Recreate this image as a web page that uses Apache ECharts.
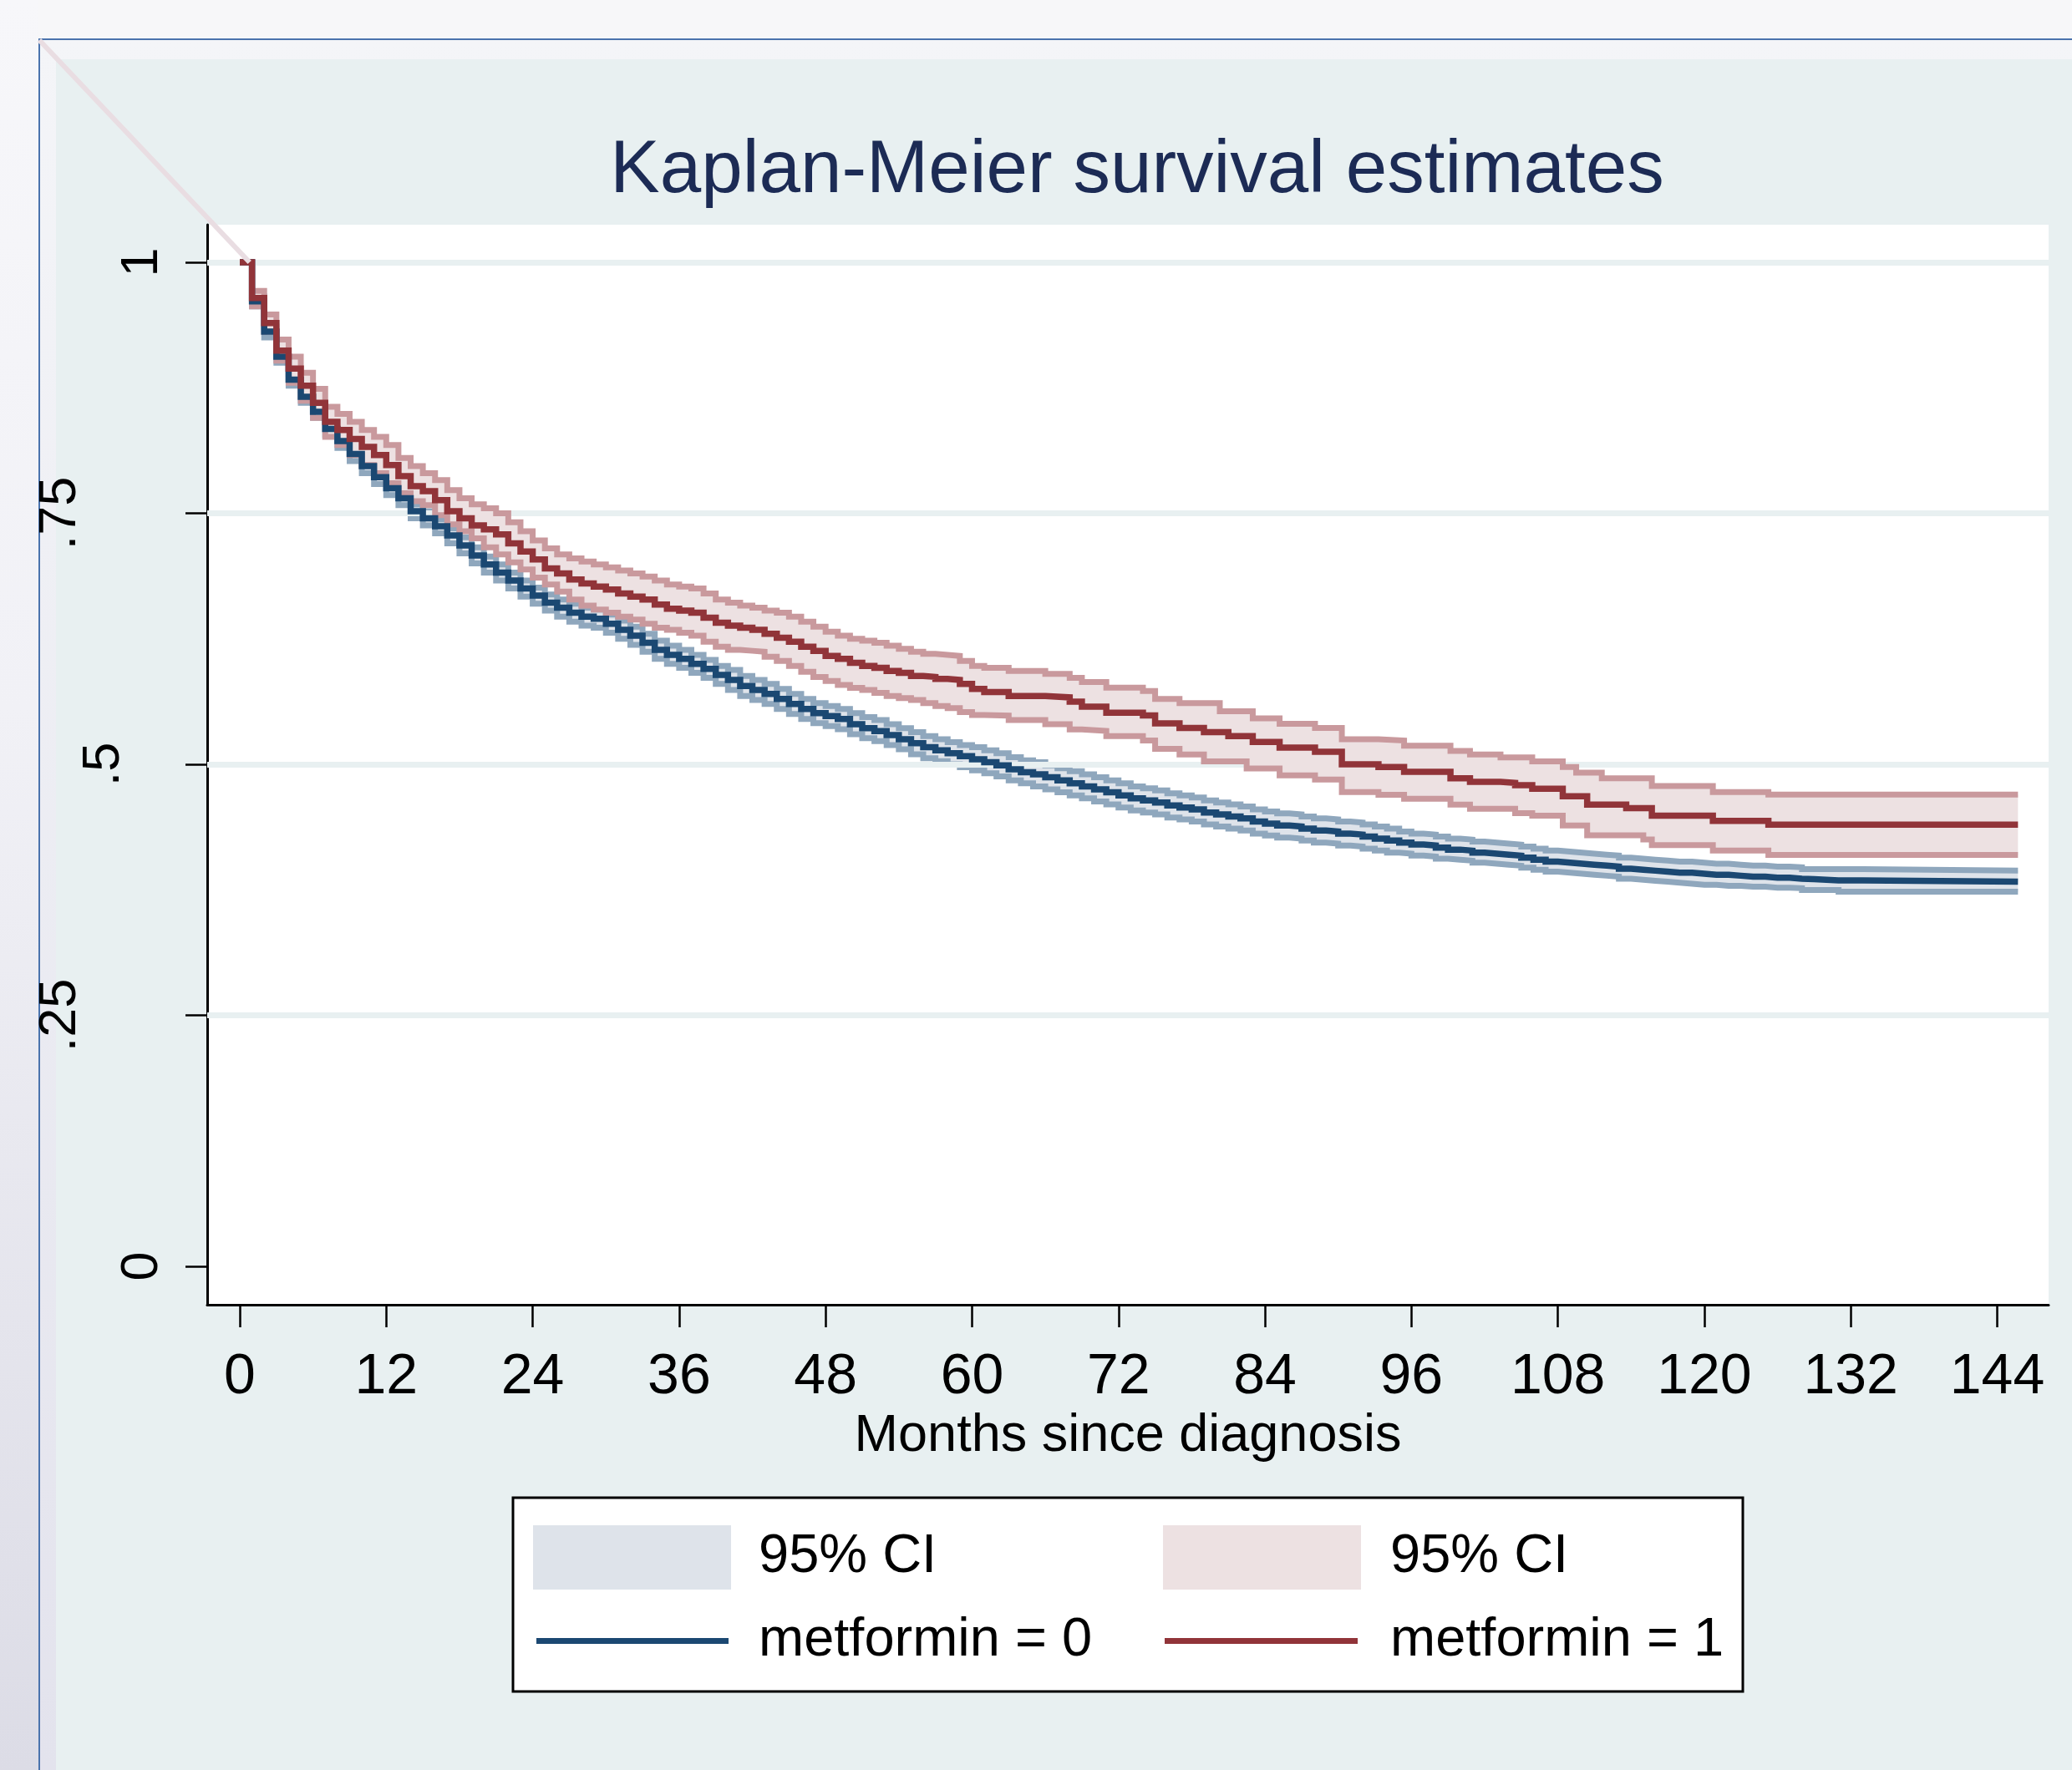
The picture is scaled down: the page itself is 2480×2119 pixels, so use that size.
<!DOCTYPE html>
<html>
<head>
<meta charset="utf-8">
<title>Kaplan-Meier survival estimates</title>
<script src="https://cdn.jsdelivr.net/npm/echarts@6.0.0/dist/echarts.min.js"></script>
<style>
html, body { margin: 0; padding: 0; }
body { width: 2480px; height: 2119px; position: relative; overflow: hidden; background: #f7f7f9; }
#side { position: absolute; left: 0; top: 0; width: 46px; height: 2119px; background: linear-gradient(#f7f7fa, #f1f1f6 40%, #dcdce6); }
#frame { position: absolute; left: 46px; top: 46px; right: 0; bottom: 0; border-left: 2px solid #4a73ad; border-top: 2px solid #4a73ad; background: linear-gradient(#f4f5f8, #e3e3ed); }
#region { position: absolute; left: 67px; top: 71px; right: 0; bottom: 0; background: #e8f0f1; }
#chart { position: absolute; left: 0; top: 0; width: 2480px; height: 2119px; }
</style>
</head>
<body>
<div id="side"></div>
<div id="frame"></div>
<div id="region"></div>
<div id="chart"></div>
<script>
// tick marks
var xTicks = [0, 12, 24, 36, 48, 60, 72, 84, 96, 108, 120, 132, 144];
var yTicks = [0, 0.25, 0.5, 0.75, 1];
var yTickLabels = ['0', '.25', '.5', '.75', '1'];
var gridValues = [0.25, 0.5, 0.75, 1];

// metformin = 0 (months, survival, 95% CI)
var blueTime = [0, 1, 2, 3, 4, 5, 6, 7, 8, 9, 10, 11, 12, 13, 14, 15, 16, 17, 18, 19,
    20, 21, 22, 23, 24, 25, 26, 27, 28, 29, 30, 31, 32, 33, 34, 35, 36, 37, 38, 39,
    40, 41, 42, 43, 44, 45, 46, 47, 48, 49, 50, 51, 52, 53, 54, 55, 56, 57, 58, 59,
    60, 61, 62, 63, 64, 65, 66, 67, 68, 69, 70, 71, 72, 73, 74, 75, 76, 77, 78, 79,
    80, 81, 82, 83, 84, 85, 86, 87, 88, 89, 90, 91, 92, 93, 94, 95, 96, 97, 98, 99,
    100, 101, 102, 103, 104, 105, 106, 107, 108, 109, 110, 111, 112, 113, 114, 115, 116, 117, 118, 119,
    120, 121, 122, 123, 124, 125, 126, 127, 128, 129, 131, 133, 145.7];
var blueSurv = [1, .961, .931, .906, .883, .866, .851, .834, .822, .809,
    .797, .786, .775, .765, .752, .745, .737, .728, .718, .708,
    .699, .691, .683, .675, .668, .661, .656, .651, .647, .645,
    .640, .634, .628, .621, .614, .609, .605, .600, .595, .589,
    .584, .578, .574, .570, .565, .560, .555, .551, .548, .545,
    .540, .536, .533, .529, .525, .521, .517, .514, .511, .508,
    .505, .502, .499, .495, .492, .490, .487, .484, .481, .478,
    .475, .472, .469, .466, .464, .462, .459, .457, .455, .452,
    .450, .448, .446, .443, .441, .439, .438, .436, .434, .433,
    .431, .430, .428, .426, .424, .422, .420, .419, .417, .415,
    .414, .412, .411, .410, .409, .407, .405, .403, .402, .401,
    .400, .399, .398, .396, .395, .394, .393, .392, .392, .391,
    .390, .390, .389, .388, .388, .387, .387, .386, .3855, .3844,
    .3844, .383, .383];
var blueUpper = [1, .966, .936, .912, .889, .872, .857, .840, .828, .815,
    .804, .793, .782, .772, .759, .752, .744, .735, .726, .716,
    .707, .699, .691, .683, .676, .669, .664, .660, .656, .654,
    .649, .643, .637, .630, .623, .618, .614, .609, .604, .598,
    .594, .588, .584, .580, .575, .570, .565, .561, .558, .555,
    .551, .547, .544, .540, .536, .532, .528, .525, .522, .519,
    .517, .514, .511, .507, .504, .502, .499, .496, .493, .490,
    .487, .484, .481, .478, .476, .474, .471, .469, .467, .464,
    .462, .460, .458, .455, .453, .451, .450, .448, .446, .445,
    .443, .442, .440, .438, .436, .433, .431, .430, .428, .426,
    .425, .423, .422, .421, .420, .418, .416, .414, .413, .412,
    .411, .410, .409, .407, .406, .405, .404, .403, .403, .402,
    .401, .401, .400, .399, .399, .398, .398, .3974, .3955, .3955,
    .3955, .3941, .3941];
var blueLower = [1, .956, .925, .900, .877, .860, .845, .828, .815, .802,
    .790, .779, .768, .758, .745, .738, .730, .720, .710, .700,
    .691, .683, .675, .667, .660, .653, .647, .642, .638, .636,
    .631, .625, .619, .612, .605, .600, .596, .591, .586, .580,
    .574, .568, .564, .560, .555, .550, .545, .541, .538, .535,
    .530, .526, .523, .519, .515, .510, .506, .503, .500, .497,
    .494, .491, .488, .484, .481, .478, .475, .472, .469, .466,
    .463, .460, .457, .454, .452, .450, .447, .445, .443, .440,
    .438, .436, .434, .431, .429, .427, .426, .424, .422, .421,
    .419, .418, .416, .414, .412, .411, .409, .408, .406, .405,
    .404, .402, .401, .400, .399, .397, .395, .393, .392, .391,
    .390, .389, .388, .386, .385, .384, .383, .382, .381, .380,
    .380, .379, .379, .378, .378, .377, .377, .3766, .3747, .3747,
    .373, .373, .373];

// metformin = 1
var redTime = [0, 1, 2, 3, 4, 5, 6, 7, 8, 9, 10, 11, 12, 13, 14, 15, 16, 17, 18, 19,
    20, 21, 22, 23, 24, 25, 26, 27, 28, 29, 30, 31, 32, 33, 34, 35, 36, 37, 38, 39,
    40, 41, 42, 43, 44, 45, 46, 47, 48, 49, 50, 51, 52, 53, 54, 55, 56, 57, 58, 59, 60,
    61, 63, 66, 68, 69, 71, 74, 75, 77, 79, 80.3, 81, 82.5, 83, 85.2, 88.1, 90.3, 93.3, 95.4, 99.2,
    100.8, 103.3, 104.5, 105.9, 108.4, 109.5, 110.4, 111.6, 113.6, 115, 115.7, 120.7, 125.25, 145.7];
var redSurv = [1, .9645, .9395, .912, .894, .877, .860, .841, .833, .824,
    .816, .808, .798, .787, .777, .772, .763, .752, .745, .738,
    .734, .729, .720, .712, .704, .695, .690, .684, .680, .677,
    .674, .670, .667, .664, .659, .655, .653, .651, .646, .641,
    .638, .636, .634, .630, .626, .622, .617, .613, .608, .605,
    .601, .598, .596, .593, .591, .588, .587, .585, .584, .580, .575,
    .572, .568, .5666, .5624, .5574, .5513, .5486, .5408, .5361, .532, .532, .528, .528, .5222, .5167, .5125, .500, .4972, .4925, .4861,
    .4825, .4814, .4792, .4756, .4681, .4681, .4598, .4598, .4562, .4562, .4487, .4437, .4398, .4398];
var redUpper = [1, .9714, .948, .923, .906, .890, .874, .856, .849, .841,
    .833, .826, .818, .805, .797, .790, .783, .773, .765, .759,
    .755, .750, .741, .732, .723, .715, .709, .705, .702, .699,
    .696, .693, .690, .687, .683, .679, .677, .675, .670, .664,
    .661, .658, .656, .653, .651, .647, .642, .637, .632, .628,
    .625, .623, .621, .618, .615, .612, .610, .609, .608, .603, .598,
    .596, .593, .590, .586, .582, .5763, .573, .5651, .561, .561, .5527, .5527, .5527, .5458, .5403, .5361, .525, .5236, .5185, .5133,
    .5097, .5069, .5069, .5028, .4972, .4917, .4917, .4861, .4861, .4861, .4784, .4723, .4698, .4698];
var redLower = [1, .956, .931, .902, .880, .862, .845, .826, .818, .808,
    .798, .790, .780, .770, .762, .758, .748, .739, .732, .725,
    .716, .709, .701, .694, .686, .679, .672, .664, .658, .654,
    .651, .647, .644, .640, .636, .634, .631, .628, .622, .617,
    .614, .613, .612, .607, .603, .598, .592, .587, .583, .579,
    .576, .574, .571, .568, .566, .564, .561, .558, .556, .552, .549,
    .5485, .544, .540, .5347, .5333, .528, .5236, .5153, .5097, .5028, .5028, .5028, .4958, .4958, .4889, .4847, .4722, .4695, .4656, .4598,
    .4556, .4556, .4514, .4487, .439, .439, .4292, .4292, .4292, .4251, .4195, .414, .4098, .4098];

var font = "'Liberation Sans', Arial, Helvetica, sans-serif";

function pairs(t, v) {
    return t.map(function (x, i) { return [x, v[i]]; });
}
function stepLine(name, data, color, width, z) {
    return {
        name: name,
        type: 'line',
        step: 'end',
        data: data,
        symbol: 'none',
        showSymbol: false,
        silent: true,
        z: z,
        lineStyle: { color: color, width: width, cap: 'butt', join: 'miter' },
        itemStyle: { color: color }
    };
}
// filled step band between the lower and upper confidence limits
function band(name, time, lo, hi, fill, z) {
    return {
        name: name,
        type: 'custom',
        coordinateSystem: 'cartesian2d',
        silent: true,
        z: z,
        itemStyle: { color: fill },
        data: [[time[0], hi[0]]],
        renderItem: function (params, api) {
            var top = [], bottom = [];
            for (var i = 0; i < time.length; i++) {
                var x2 = i + 1 < time.length ? time[i + 1] : time[i];
                top.push(api.coord([time[i], hi[i]]), api.coord([x2, hi[i]]));
                bottom.push(api.coord([time[i], lo[i]]), api.coord([x2, lo[i]]));
            }
            return {
                type: 'polygon',
                shape: { points: top.concat(bottom.reverse()) },
                style: { fill: fill }
            };
        }
    };
}
function legendItem(left, top, name, w, h, color, padLeft) {
    return {
        left: left,
        top: top,
        padding: 0,
        selectedMode: false,
        itemWidth: w,
        itemHeight: h,
        data: [{ name: name, icon: 'rect', itemStyle: { color: color, borderWidth: 0 } }],
        formatter: function (n) { return n.indexOf('ci') === 0 ? '95% CI' : n; },
        textStyle: { fontFamily: font, fontSize: 65, color: '#000', lineHeight: 77, padding: [12, 0, 0, padLeft] }
    };
}

var chart = echarts.init(document.getElementById('chart'), null, { renderer: 'canvas' });
chart.setOption({
    animation: false,
    backgroundColor: 'transparent',
    title: {
        text: 'Kaplan-Meier survival estimates',
        left: 1356,
        top: 156,
        textAlign: 'center',
        textStyle: { fontFamily: font, fontSize: 89, fontWeight: 'normal', color: '#1c2b55' }
    },
    grid: {
        left: 248, right: 28, top: 269, bottom: 557,
        show: true, backgroundColor: '#ffffff', borderWidth: 0
    },
    xAxis: {
        type: 'value',
        min: -2.67,
        max: 148.21,
        name: 'Months since diagnosis',
        nameLocation: 'middle',
        nameGap: 123,
        nameTextStyle: { fontFamily: font, fontSize: 63, color: '#000' },
        axisLine: { show: true, onZero: false, lineStyle: { color: '#000', width: 3 } },
        axisTick: { show: true, customValues: xTicks, length: 27, lineStyle: { color: '#000', width: 2.5 } },
        axisLabel: { customValues: xTicks, margin: 53, fontFamily: font, fontSize: 68, color: '#000' },
        splitLine: { show: false }
    },
    yAxis: {
        type: 'value',
        min: -0.0383,
        max: 1.0374,
        axisLine: { show: true, onZero: false, lineStyle: { color: '#000', width: 3 } },
        axisTick: { show: true, customValues: yTicks, length: 26, lineStyle: { color: '#000', width: 2.5 } },
        axisLabel: {
            customValues: yTicks,
            rotate: 90,
            margin: 40,
            color: '#000',
            formatter: function (v) {
                var s = yTickLabels[yTicks.indexOf(v)];
                return '{p' + s.length + '|' + s + '}';
            },
            rich: {
                p1: { fontFamily: font, fontSize: 63, color: '#000', padding: [0, 0, 6, 0] },
                p2: { fontFamily: font, fontSize: 63, color: '#000', padding: [0, 0, 52, 0] },
                p3: { fontFamily: font, fontSize: 63, color: '#000', padding: [0, 0, 104, 0] }
            }
        },
        splitLine: { show: false }
    },
    legend: [
        legendItem(638, 1820, 'ci0', 237, 77, '#dee3ea', 28),
        legendItem(1392, 1820, 'ci1', 237, 77, '#ede1e2', 30),
        legendItem(642, 1920, 'metformin = 0', 230, 7, '#1b4872', 31),
        legendItem(1394, 1920, 'metformin = 1', 231, 7, '#913439', 34)
    ],
    graphic: [{
        id: 'legendBox',
        type: 'rect',
        z: 0,
        shape: { x: 614, y: 1793, width: 1472, height: 232 },
        style: { fill: '#ffffff', stroke: '#000000', lineWidth: 3 }
    }],
    series: [
        {
            name: 'grid',
            type: 'line',
            data: [],
            z: 1,
            silent: true,
            markLine: {
                silent: true,
                symbol: ['none', 'none'],
                label: { show: false },
                lineStyle: { color: '#e8f0f1', width: 7, type: 'solid' },
                data: gridValues.map(function (v) { return { yAxis: v }; })
            }
        },
        band('ci0', blueTime, blueLower, blueUpper, '#dee3ea', 3),
        stepLine('ci0lo', pairs(blueTime, blueLower), '#8fa7bd', 7, 4),
        stepLine('ci0hi', pairs(blueTime, blueUpper), '#8fa7bd', 7, 4),
        band('ci1', redTime, redLower, redUpper, '#ede1e2', 5),
        stepLine('ci1lo', pairs(redTime, redLower), '#c9999d', 7, 6),
        stepLine('ci1hi', pairs(redTime, redUpper), '#c9999d', 7, 6),
        stepLine('metformin = 0', pairs(blueTime, blueSurv), '#1b4872', 7.5, 7),
        stepLine('metformin = 1', pairs(redTime, redSurv), '#913439', 7.5, 8)
    ]
});

// faint diagonal stroke running from the frame corner to the curves' start
var p = chart.convertToPixel({ gridIndex: 0 }, [0.8, 1]);
chart.setOption({
    graphic: [{
        id: 'diag',
        type: 'line',
        z: 10,
        shape: { x1: 47, y1: 48, x2: p[0], y2: p[1] },
        style: { stroke: '#e9dde2', lineWidth: 6 }
    }]
});
</script>
</body>
</html>
